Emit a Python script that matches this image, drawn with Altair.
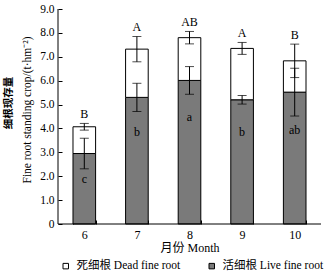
import altair as alt
import pandas as pd

months = ["6", "7", "8", "9", "10"]
live = [2.95, 5.30, 6.01, 5.20, 5.52]
live_err = [0.64, 0.59, 0.58, 0.18, 1.00]
dead = [1.12, 2.02, 1.79, 2.15, 1.31]
total_err = [0.14, 0.53, 0.26, 0.25, 0.70]
upper_letters = ["B", "A", "AB", "A", "B"]
lower_letters = ["c", "b", "a", "b", "ab"]
lower_letter_y = [1.88, 3.85, 4.47, 3.85, 3.93]
parts = ["死细根  Dead fine root", "活细根  Live fine root"]
y_ticks = [0, 1, 2, 3, 4, 5, 6, 7, 8, 9]

SERIF = "Liberation Serif, Times New Roman, Noto Sans CJK SC"
CJK = "Noto Sans CJK SC"

total = [round(l + d, 2) for l, d in zip(live, dead)]

rows = []
for m, l, t in zip(months, live, total):
    rows.append({"month": m, "part": parts[1], "lo": 0.0, "hi": l})
    rows.append({"month": m, "part": parts[0], "lo": l, "hi": t})
bars_df = pd.DataFrame(rows)

df = pd.DataFrame({
    "month": months,
    "live": live,
    "live_lo": [l - e for l, e in zip(live, live_err)],
    "live_hi": [l + e for l, e in zip(live, live_err)],
    "total": total,
    "tot_lo": [t - e for t, e in zip(total, total_err)],
    "tot_hi": [t + e for t, e in zip(total, total_err)],
    "upper": upper_letters,
    "lower": lower_letters,
    "lower_y": lower_letter_y,
})

W, H = 263, 215

xscale = alt.Scale(domain=months, paddingInner=0.57, paddingOuter=0.285)
yscale = alt.Scale(domain=[0, 9], nice=False, zero=True)

xaxis = alt.Axis(
    title="月份  Month", titleFont=SERIF, titleFontSize=12, titleFontWeight="normal",
    titleColor="black", titlePadding=2,
    labelFont=SERIF, labelFontSize=12, labelColor="black", labelAngle=0, labelPadding=5,
    tickBand="extent", tickSize=4, tickColor="black", domain=False, offset=-4,
)
yaxis = alt.Axis(
    title=None,
    labelFont=SERIF, labelFontSize=11.5, labelColor="black", labelPadding=4,
    labelOverlap=False, tickCount=10,
    values=y_ticks, tickSize=4, tickColor="black", domain=False, offset=-4, grid=False,
    labelExpr="datum.value == 0 ? '0' : format(datum.value, '.1f')",
)


def X():
    return alt.X("month:N", scale=xscale, sort=months, axis=xaxis)


def Y(field):
    return alt.Y(field, scale=yscale, axis=yaxis)


bars = alt.Chart(bars_df).mark_bar(stroke="black", strokeWidth=1).encode(
    x=X(),
    y=Y("hi:Q"),
    y2="lo:Q",
    color=alt.Color(
        "part:N",
        scale=alt.Scale(domain=parts, range=["white", "#7a7a7a"]),
        legend=alt.Legend(
            title=None, orient="none", direction="horizontal", legendX=2, legendY=251,
            symbolType="square", symbolSize=30, symbolStrokeColor="black",
            symbolStrokeWidth=1, labelFont=SERIF, labelFontSize=11.5, labelColor="black",
            labelLimit=300, columnPadding=22, labelOffset=5, padding=0,
        ),
    ),
)

base = alt.Chart(df).encode(x=X())

tot_rule = base.mark_rule(color="black").encode(y=Y("tot_lo:Q"), y2="tot_hi:Q")
tot_cap_hi = base.mark_tick(color="black", size=9, thickness=1).encode(y=Y("tot_hi:Q"))
tot_cap_lo = base.mark_tick(color="black", size=9, thickness=1).encode(y=Y("tot_lo:Q"))
live_rule = base.mark_rule(color="black").encode(y=Y("live_lo:Q"), y2="live_hi:Q")
live_cap_hi = base.mark_tick(color="black", size=9, thickness=1).encode(y=Y("live_hi:Q"))
live_cap_lo = base.mark_tick(color="black", size=9, thickness=1).encode(y=Y("live_lo:Q"))

upper_txt = base.mark_text(font=SERIF, fontSize=12, baseline="middle", dy=-9,
                           color="black", fill="black").encode(
    y=Y("tot_hi:Q"), text="upper:N")
lower_txt = base.mark_text(font=SERIF, fontSize=12, baseline="middle",
                           color="black", fill="black").encode(
    y=Y("lower_y:Q"), text="lower:N")

axis_df = pd.DataFrame({"v": [0]})
ydomain = alt.Chart(axis_df).mark_rule(color="black").encode(
    x=alt.value(0), y=alt.YDatum(0, scale=yscale, axis=yaxis), y2=alt.datum(9))
xdomain = alt.Chart(axis_df).mark_rule(color="black").encode(
    y=alt.YDatum(0, scale=yscale, axis=yaxis), x=alt.value(0), x2=alt.value(W))

cjk_title = alt.Chart(axis_df).mark_text(
    font=CJK, fontSize=10.5, fontWeight="bold", angle=270, baseline="middle", align="center",
    color="black", fill="black").encode(x=alt.value(-49.5), y=alt.value(94),
                                        text=alt.value("细根现存量"))
en_title = alt.Chart(axis_df).mark_text(
    font=SERIF, fontSize=11.5, angle=270, baseline="middle", align="center",
    color="black", fill="black").encode(x=alt.value(-30), y=alt.value(101),
                                        text=alt.value("Fine root standing crop/(t·hm⁻²)"))

chart = alt.layer(
    bars, tot_rule, tot_cap_hi, tot_cap_lo, live_rule, live_cap_hi, live_cap_lo,
    upper_txt, lower_txt, ydomain, xdomain, cjk_title, en_title,
).properties(
    width=W, height=H,
    autosize=alt.AutoSizeParams(type="none"),
    padding={"left": 58, "top": 9, "right": 6, "bottom": 51},
    background="white",
).configure_view(stroke=None)

chart.save("out.html", embed_options={"renderer": "svg", "actions": False})
